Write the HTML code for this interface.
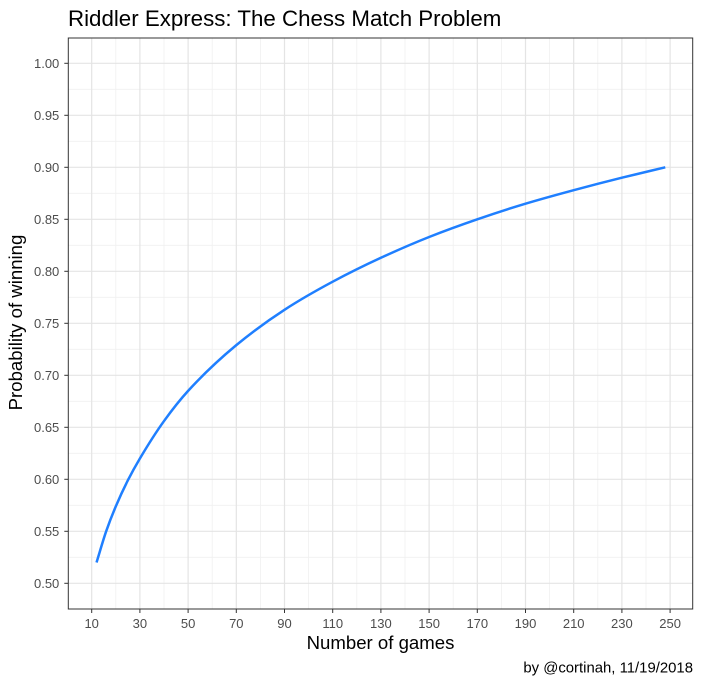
<!DOCTYPE html>
<html><head><meta charset="utf-8"><style>
body{margin:0;background:#fff;font-family:"Liberation Sans",Arial,sans-serif;}
svg{display:block}
</style></head><body>
<svg id="chart" width="703" height="686" xmlns="http://www.w3.org/2000/svg">
<text x="68" y="26" font-size="22.3" fill="#000">Riddler Express: The Chess Match Problem</text>
<g id="grid"></g>
<g id="axes"></g>
<path id="line" fill="none" stroke="#1f7fff" stroke-width="2.5"/>
<rect x="68.3" y="38" width="624.4" height="571" fill="none" stroke="#333" stroke-width="1"/>
<text x="380.5" y="649" font-size="18.6" text-anchor="middle" fill="#000">Number of games</text>
<text transform="translate(22,322.5) rotate(-90)" font-size="18.6" text-anchor="middle" fill="#000">Probability of winning</text>
<text x="693" y="672.5" font-size="14.9" text-anchor="end" fill="#000">by @cortinah, 11/19/2018</text>
</svg>
<script>
const games = [12, 16, 20, 25, 30, 40, 50, 70, 90, 110, 130, 150, 170, 190, 210, 230, 248];
const probs = [0.520, 0.550, 0.574, 0.599, 0.620, 0.656, 0.685, 0.729, 0.763, 0.790, 0.813, 0.833, 0.850, 0.865, 0.878, 0.890, 0.900];
const xTicks = [10, 30, 50, 70, 90, 110, 130, 150, 170, 190, 210, 230, 250];
const yTicks = [0.50, 0.55, 0.60, 0.65, 0.70, 0.75, 0.80, 0.85, 0.90, 0.95, 1.00];
const NS = "http://www.w3.org/2000/svg";
const xs = g => 91.7 + (g - 10) * (48.2 / 20);
const ys = p => 583.3 - (p - 0.5) * (52 / 0.05);
const L = 68.3, R = 692.7, T = 38, B = 609;
const grid = document.getElementById('grid'), axes = document.getElementById('axes');
function ln(parent, x1, y1, x2, y2, stroke, w) {
  const l = document.createElementNS(NS, 'line');
  l.setAttribute('x1', x1); l.setAttribute('y1', y1); l.setAttribute('x2', x2); l.setAttribute('y2', y2);
  l.setAttribute('stroke', stroke); l.setAttribute('stroke-width', w);
  parent.appendChild(l); return l;
}
function tx(parent, x, y, s, anchor) {
  const t = document.createElementNS(NS, 'text');
  t.setAttribute('x', x); t.setAttribute('y', y); t.setAttribute('font-size', '13');
  t.setAttribute('fill', '#4d4d4d'); t.setAttribute('text-anchor', anchor); t.textContent = s;
  parent.appendChild(t); return t;
}
for (let i = 0; i < xTicks.length - 1; i++) {
  const m = (xTicks[i] + xTicks[i + 1]) / 2;
  const l = ln(grid, xs(m), T, xs(m), B, '#f0f0f0', 0.8);
  
  
}
for (let i = 0; i < yTicks.length - 1; i++) {
  const m = (yTicks[i] + yTicks[i + 1]) / 2;
  const l = ln(grid, L, ys(m), R, ys(m), '#f0f0f0', 0.8);
  
  
}
xTicks.forEach(v => {
  const g = ln(grid, xs(v), T, xs(v), B, '#e4e4e4', 1.2);
  
  
  const t = ln(axes, xs(v), B, xs(v), B + 4, '#333', 1);
  
  
  const lab = tx(axes, xs(v), B + 19, String(v), 'middle');
  
  
});
yTicks.forEach(v => {
  const g = ln(grid, L, ys(v), R, ys(v), '#e4e4e4', 1.2);
  
  
  const t = ln(axes, L - 4, ys(v), L, ys(v), '#333', 1);
  
  
  const lab = tx(axes, L - 9, ys(v) + 4.5, v.toFixed(2), 'end');
  
  
});
const px = games.map(xs), py = probs.map(ys);
const n = px.length, dx = [], sl = [];
for (let i = 0; i < n - 1; i++) { dx.push(px[i + 1] - px[i]); sl.push((py[i + 1] - py[i]) / dx[i]); }
const m = [sl[0]];
for (let i = 1; i < n - 1; i++) {
  if (sl[i - 1] * sl[i] <= 0) m.push(0);
  else { const w1 = 2 * dx[i] + dx[i - 1], w2 = dx[i] + 2 * dx[i - 1]; m.push((w1 + w2) / (w1 / sl[i - 1] + w2 / sl[i])); }
}
m.push(sl[n - 2]);
let d = 'M' + px[0] + ',' + py[0];
for (let i = 0; i < n - 1; i++) {
  const h = dx[i] / 3;
  d += ' C' + (px[i] + h) + ',' + (py[i] + m[i] * h) + ' ' + (px[i + 1] - h) + ',' + (py[i + 1] - m[i + 1] * h) + ' ' + px[i + 1] + ',' + py[i + 1];
}
document.getElementById('line').setAttribute('d', d);
</script>
</body></html>
